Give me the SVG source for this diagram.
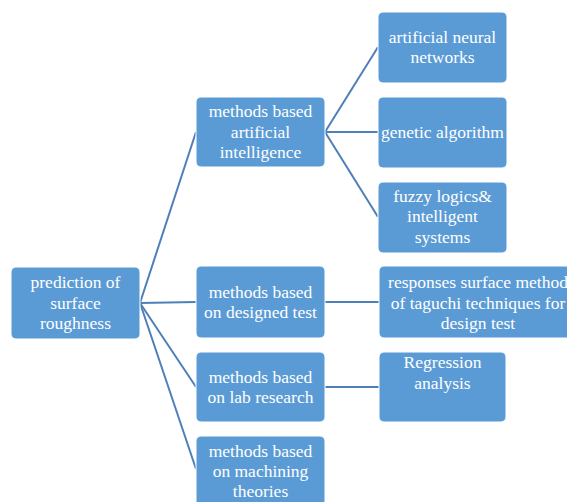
<svg xmlns="http://www.w3.org/2000/svg" width="567" height="502" viewBox="0 0 567 502">
<style>
.box{fill:#5B9BD5;stroke:#ffffff;stroke-width:1}
.t{font-family:"Liberation Serif","Times New Roman",serif;font-size:17.5px;fill:#ffffff;text-anchor:middle}
.c{stroke:#4F7FB8;stroke-width:2;fill:none}
</style>
<rect width="567" height="502" fill="#ffffff"/>
<g id="connectors">
<line class="c" x1="140" y1="303" x2="196" y2="132"/>
<line class="c" x1="140" y1="303" x2="196" y2="302"/>
<line class="c" x1="140" y1="303" x2="196" y2="387"/>
<line class="c" x1="140" y1="303" x2="196" y2="469"/>
<line class="c" x1="325" y1="132" x2="378" y2="47"/>
<line class="c" x1="325" y1="132" x2="378" y2="132"/>
<line class="c" x1="325" y1="132" x2="378" y2="217"/>
<line class="c" x1="325" y1="302" x2="379" y2="302"/>
<line class="c" x1="325" y1="387" x2="379" y2="387"/>
</g>
<g id="root">
<rect class="box" x="11" y="267" width="129" height="72" rx="5"/>
<text class="t" x="75.5" y="288">prediction of</text>
<text class="t" x="75.5" y="309">surface</text>
<text class="t" x="75.5" y="329">roughness</text>
</g>
<g id="ai">
<rect class="box" x="196" y="97" width="129" height="70" rx="5"/>
<text class="t" x="260.5" y="117">methods based</text>
<text class="t" x="260.5" y="138">artificial</text>
<text class="t" x="260.5" y="158">intelligence</text>
</g>
<g id="designed">
<rect class="box" x="196" y="266" width="129" height="72" rx="5"/>
<text class="t" x="260.5" y="298">methods based</text>
<text class="t" x="260.5" y="318">on designed test</text>
</g>
<g id="lab">
<rect class="box" x="196" y="352" width="129" height="70" rx="5"/>
<text class="t" x="260.5" y="383">methods based</text>
<text class="t" x="260.5" y="403">on lab research</text>
</g>
<g id="machining">
<rect class="box" x="196" y="436" width="129" height="72" rx="5"/>
<text class="t" x="260.5" y="457">methods based</text>
<text class="t" x="260.5" y="477">on machining</text>
<text class="t" x="260.5" y="497">theories</text>
</g>
<g id="ann">
<rect class="box" x="378" y="12" width="129" height="71" rx="5"/>
<text class="t" x="442.5" y="43">artificial neural</text>
<text class="t" x="442.5" y="63">networks</text>
</g>
<g id="ga">
<rect class="box" x="378" y="97" width="129" height="71" rx="5"/>
<text class="t" x="442.5" y="138">genetic algorithm</text>
</g>
<g id="fuzzy">
<rect class="box" x="378" y="182" width="129" height="71" rx="5"/>
<text class="t" x="442.5" y="202">fuzzy logics&amp;</text>
<text class="t" x="442.5" y="222">intelligent</text>
<text class="t" x="442.5" y="243">systems</text>
</g>
<g id="responses">
<rect class="box" x="379" y="266" width="200" height="72" rx="5"/>
<text class="t" x="478" y="288">responses surface method</text>
<text class="t" x="478" y="309">of taguchi techniques for</text>
<text class="t" x="478" y="329">design test</text>
</g>
<g id="regression">
<rect class="box" x="379" y="352" width="127" height="70" rx="5"/>
<text class="t" x="442.5" y="368">Regression</text>
<text class="t" x="442.5" y="389">analysis</text>
</g>
</svg>
